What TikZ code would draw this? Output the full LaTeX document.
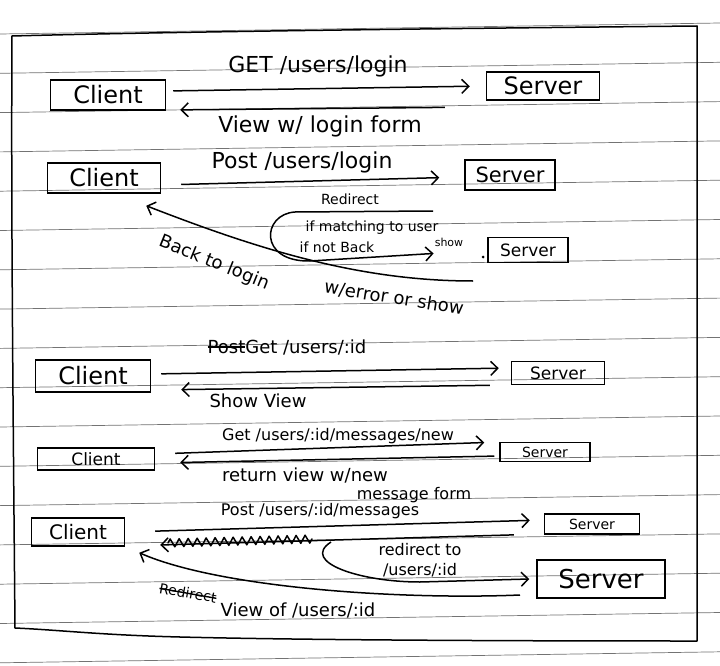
\documentclass[tikz,border=0pt]{standalone}
\usepackage{fontspec}
\setmainfont{DejaVu Sans}
\usetikzlibrary{arrows.meta,decorations.pathmorphing}
\newcommand{\crossout}[1]{\setbox0\hbox{#1}\rlap{\raisebox{0.3em}{\rule{\wd0}{1.4pt}}}\box0}

\begin{document}
\begin{tikzpicture}[x=1pt, y=-1pt,
  box/.style={draw, line width=1.5pt, inner sep=0pt, font=\fontsize{24}{26}\selectfont},
  big/.style={font=\fontsize{22}{24}\selectfont, inner sep=1pt},
  mid/.style={font=\fontsize{18}{20}\selectfont, inner sep=1pt},
  note/.style={font=\fontsize{14}{16}\selectfont, inner sep=1pt},
  arr/.style={-{Straight Barb[length=7pt, width=14pt]}, line width=1.5pt},
  pen/.style={line width=1.5pt, line cap=round, line join=round},
  ruled/.style={black!55, line width=0.7pt}
]
  \useasboundingbox[fill=white] (0,0) rectangle (720,666);

  % Paper lines
  \foreach \k in {0,...,16}
    \draw[ruled] (0,{34+39.3*\k}) -- (720,{23+39.3*\k});

  % Page frame
  \draw[pen] (12,36) .. controls (200,31) and (500,28) .. (697,26)
    -- (697,641) .. controls (500,641) and (300,640) .. (180,637)
    .. controls (100,635) and (60,630) .. (15,628)
    .. controls (13,400) and (11,200) .. cycle;

  % GET /users/login
  \node[box, minimum width=115pt, minimum height=30pt] (getclient) at (108,95) {Client};
  \node[box, minimum width=113pt, minimum height=28pt] (getserver) at (543,86) {Server};
  \node[big] (getlbl) at (318,66) {GET /users/login};
  \node[big] (formlbl) at (320,126) {View w/ login form};
  \draw[arr, shorten <=7pt, shorten >=16pt] ([yshift=4pt]getclient.east) -- (getserver.west);
  \draw[arr, shorten <=41pt, shorten >=14pt] ([yshift=-21pt]getserver.west) -- ([yshift=-15pt]getclient.east);

  % Post /users/login
  \node[box, minimum width=113pt, minimum height=30pt] (postclient) at (104,178) {Client};
  \node[box, minimum width=90pt, minimum height=30pt, font=\fontsize{21}{23}\selectfont] (postserver) at (510,175) {Server};
  \node[big] (postlbl) at (302,162) {Post /users/login};
  \draw[arr, shorten <=20pt, shorten >=25pt] ([yshift=-7pt]postclient.east) -- ([yshift=-2pt]postserver.west);

  \node[note] (redirlbl) at (350,199) {Redirect};
  \node[note] (matchlbl) at (372,228) {if matching to user};
  \node[note] (notlbl) at (337,247) {if not Back};
  \node[font=\fontsize{11}{12}\selectfont, inner sep=1pt] (showlbl) at (449,242) {show};
  \node[box, minimum width=80pt, minimum height=25pt, font=\fontsize{17}{19}\selectfont] (showserver) at (528,250) {Server};
  \fill (483,257) circle (1.5pt);
  \coordinate (loopstart) at (433,211);
  \draw[arr] (loopstart) -- (295,212) .. controls (262,214) and (258,262) .. (310,261)
    -- ([yshift=-6pt]showlbl.south west);

  \coordinate (errend) at (473,281);
  \draw[arr] (errend) .. controls (360,281) and (260,250) .. ([xshift=-15pt, yshift=-12pt]postclient.south east);
  \node[mid, rotate=-22] (backlbl) at (214,263) {Back to login};
  \node[mid, rotate=-9] (errlbl) at (394,298) {w/error or show};

  % Get /users/:id
  \node[box, minimum width=115pt, minimum height=32pt] (userclient) at (93,376) {Client};
  \node[box, minimum width=93pt, minimum height=23pt, font=\fontsize{17}{19}\selectfont] (userserver) at (558,373) {Server};
  \node[mid] (userlbl) at (287,347) {\crossout{Post}Get /users/:id};
  \node[mid] (viewlbl) at (258,401) {Show View};
  \draw[arr, shorten <=10pt, shorten >=12pt] ([yshift=2pt]userclient.east) -- ([yshift=5pt]userserver.west);
  \draw[arr, shorten <=21pt, shorten >=30pt] ([yshift=-12pt]userserver.west) -- ([yshift=-14pt]userclient.east);

  % Get /users/:id/messages/new
  \node[box, minimum width=117pt, minimum height=22pt, font=\fontsize{17}{19}\selectfont] (newclient) at (96,459) {Client};
  \node[box, minimum width=90pt, minimum height=19pt, font=\fontsize{14}{16}\selectfont] (newserver) at (545,452) {Server};
  \node[font=\fontsize{16}{18}\selectfont, inner sep=1pt] (newlbl) at (338,436) {Get /users/:id/messages/new};
  \node[mid] (retlbl) at (305,475) {return view w/new};
  \node[font=\fontsize{16}{18}\selectfont, inner sep=1pt] (msgformlbl) at (414,495) {message form};
  \draw[arr, shorten <=20pt, shorten >=15pt] ([yshift=5pt]newclient.east) -- ([yshift=10pt]newserver.west);
  \draw[arr, shorten <=5pt, shorten >=25pt] ([yshift=-4pt]newserver.west) -- ([yshift=-4pt]newclient.east);

  % Post /users/:id/messages
  \node[box, minimum width=93pt, minimum height=28pt, font=\fontsize{20}{22}\selectfont] (msgclient) at (78,532) {Client};
  \node[box, minimum width=95pt, minimum height=20pt, font=\fontsize{14}{16}\selectfont] (msgserver) at (592,524) {Server};
  \node[box, minimum width=128pt, minimum height=38pt, font=\fontsize{26}{28}\selectfont] (viewserver) at (601,579) {Server};
  \node[font=\fontsize{16}{18}\selectfont, inner sep=1pt] (msglbl) at (320,511) {Post /users/:id/messages};
  \draw[arr, shorten <=30pt, shorten >=14pt] (msgclient.east) -- ([yshift=4pt]msgserver.west);
  \draw[arr, shorten <=30pt, shorten >=35pt] ([yshift=-10pt]msgserver.west) -- ([yshift=-14pt]msgclient.east);
  \draw[pen, decorate, decoration={zigzag, segment length=9pt, amplitude=4pt}] (168,543) -- (312,539);

  \node[font=\fontsize{16}{18}\selectfont, inner sep=1pt] (redir2lbl) at (420,550) {redirect to};
  \node[font=\fontsize{16}{18}\selectfont, inner sep=1pt] (idlbl) at (420,570) {/users/:id};
  \coordinate (loop2) at (331,542);
  \draw[arr] (loop2) .. controls (300,562) and (360,582) .. (420,582) -- ([xshift=-7pt]viewserver.west);

  \coordinate (viewend) at (520,595);
  \draw[arr] (viewend) .. controls (400,600) and (220,588) .. ([xshift=14pt, yshift=-6pt]msgclient.south east);
  \node[font=\fontsize{14}{16}\selectfont, inner sep=1pt, rotate=-10] (oldlbl) at (188,593) {\crossout{Redirect}};
  \node[mid] (showidlbl) at (298,610) {View of /users/:id};
\end{tikzpicture}
\end{document}
